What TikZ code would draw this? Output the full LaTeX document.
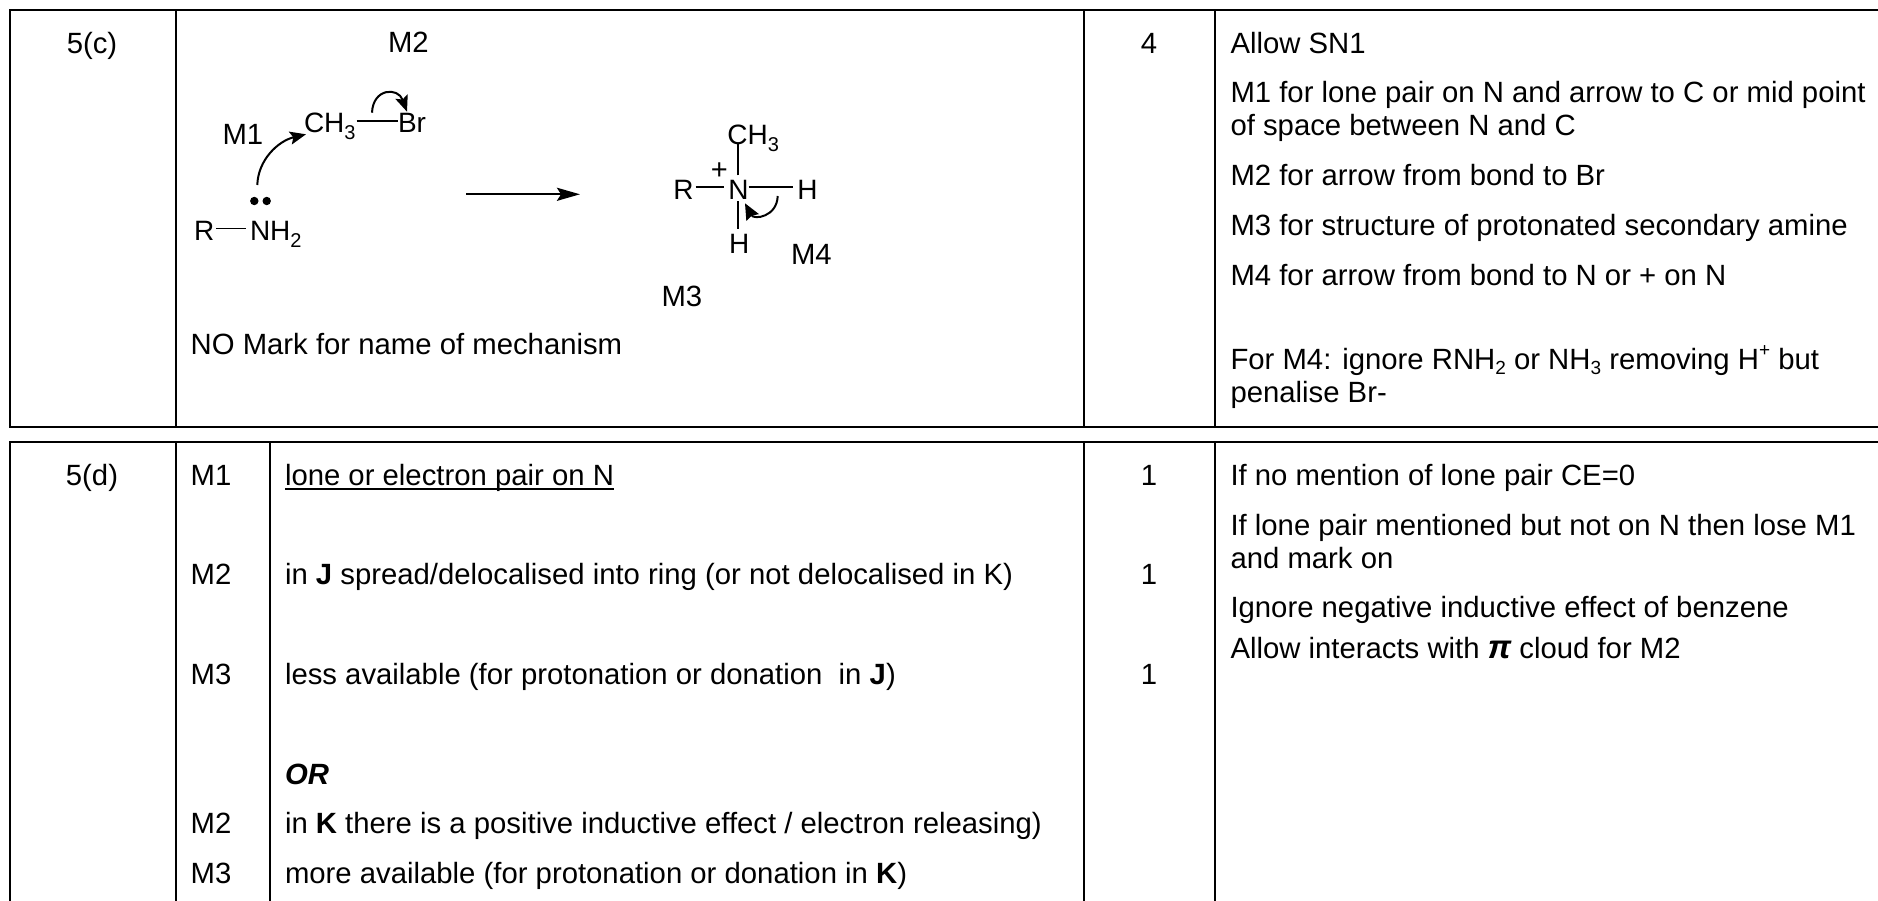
\documentclass[tikz,border=0pt]{standalone}
\usepackage{fontspec}
\setmainfont{Liberation Sans}
\usetikzlibrary{arrows.meta}
\newcommand{\subn}[1]{\raisebox{-0.2em}{\fontsize{19}{19}\selectfont #1}}
\newcommand{\supn}[1]{\raisebox{0.42em}{\fontsize{19}{19}\selectfont #1}}
\newcommand{\csub}[1]{\raisebox{-0.24em}{\fontsize{20}{20}\selectfont #1}}
\tikzset{
  x=1pt,y=-1pt,
  every node/.style={inner sep=0pt,outer sep=0pt,text=black},
  txt/.style={anchor=base west,font=\fontsize{29.3}{34}\selectfont},
  ctr/.style={anchor=base,font=\fontsize{29.3}{34}\selectfont},
  atom/.style={anchor=base west,font=\fontsize{28}{30}\selectfont,text height=24pt,text depth=0pt},
  rule/.style={line width=2.2pt,black},
  bond/.style={line width=1.9pt,black},
  thinbond/.style={line width=1pt,black},
  curly/.style={line width=2pt,black,-{Stealth[length=16pt,width=13pt,inset=3pt]}},
}
\begin{document}
\begin{tikzpicture}
\useasboundingbox (0,0) rectangle (1878,901);
% table rules
\draw[rule] (1878,10) -- (10,10) -- (10,427) -- (1878,427);
\draw[rule] (176,10) -- (176,427);
\draw[rule] (1084,10) -- (1084,427);
\draw[rule] (1215,10) -- (1215,427);
\draw[rule] (1878,442) -- (10,442) -- (10,901);
\draw[rule] (176,442) -- (176,901);
\draw[rule] (270,442) -- (270,901);
\draw[rule] (1084,442) -- (1084,901);
\draw[rule] (1215,442) -- (1215,901);
% row 5(c)
\node[ctr] (qc) at (92,53.3) {5(c)};
\node[ctr] (mc) at (1149,53.3) {4};
\node[txt] (m2a) at (388,52.7) {M2};
\node[txt] (m1a) at (222.5,145) {M1};
\node[txt] (m4a) at (791,264.3) {M4};
\node[txt] (m3a) at (661.5,306.7) {M3};
\node[txt] (nomark) at (190.7,354) {NO Mark for name of mechanism};
% reactants
\node[atom] (ch3) at (304,133) {CH\csub{3}};
\node[atom] (br) at (398,133) {Br};
\node[atom] (r1) at (194,241) {R};
\node[atom] (nh2) at (250,241) {NH\csub{2}};
\draw[bond] (ch3.east) ++(1,0) coordinate (bs) -- (br.west);
\draw[thinbond,shorten <=2pt,shorten >=4pt] (r1.east) -- (nh2.west);
\fill (254.3,201) circle (4.2) (266.7,201) circle (4.2);
\coordinate (m1s) at (257.3,185);
\coordinate (m1e) at (306,134.3);
\draw[curly] (m1s) .. controls (258,160) and (278,141) .. (m1e);
\coordinate (m2s) at (372,112.7);
\coordinate (m2e) at (407,111.7);
\draw[curly] (m2s) .. controls (373,88) and (398,87) .. (m2e);
% reaction arrow
\coordinate (ra) at (466,194.3);
\coordinate (rb) at (580,194.3);
\draw[line width=2.4pt,-{Stealth[length=23pt,width=13pt,inset=4pt]}] (ra) -- (rb);
% product
\node[atom] (ch3p) at (727.3,144.3) {CH\csub{3}};
\node[atom] (np) at (728.3,199.3) {N};
\node[atom] (rp) at (673.3,199.3) {R};
\node[atom] (hr) at (797.3,199.3) {H};
\node[atom] (hb) at (729,253.3) {H};
\node[anchor=center,font=\fontsize{29}{30}\selectfont] (plus) at (719.3,171.5) {+};
\draw[bond,shorten <=2pt,shorten >=4pt] (rp.east) -- (np.west);
\draw[bond,shorten <=0pt,shorten >=4pt] (np.east) -- (hr.west);
\draw[bond] (np.north) -- (np.north |- ch3p.south);
\draw[bond,shorten <=2pt] (np.south) -- (np.south |- hb.north);
\coordinate (m4s) at (777.7,196);
\coordinate (m4e) at (745,203.3);
\draw[line width=2pt,-{Stealth[length=16pt,width=14pt,inset=2pt]}] (m4s) .. controls (777,217) and (754,220) .. (m4e);
% col 4, row c
\node[txt] (c1) at (1230.5,53.3) {Allow SN1};
\node[txt] (c2) at (1230.5,102.7) {M1 for lone pair on N and arrow to C or mid point};
\node[txt] (c3) at (1230.5,136) {of space between N and C};
\node[txt] (c4) at (1230.5,186) {M2 for arrow from bond to Br};
\node[txt] (c5) at (1230.5,236) {M3 for structure of protonated secondary amine};
\node[txt] (c6) at (1230.5,285) {M4 for arrow from bond to N or + on N};
\node[txt] (c7) at (1230.5,369) {For M4: ignore RNH\subn{2} or NH\subn{3} removing H\supn{+} but};
\node[txt] (c8) at (1230.5,402.3) {penalise Br-};
% row 5(d)
\node[ctr] (qd) at (92,485.7) {5(d)};
\node[txt] (dm1) at (190.7,485.7) {M1};
\node[txt] (dm2) at (190.7,584.3) {M2};
\node[txt] (dm3) at (190.7,684.3) {M3};
\node[txt] (dm2b) at (190.7,833.3) {M2};
\node[txt] (dm3b) at (190.7,883.3) {M3};
\node[txt] (d1) at (285,485.7) {lone or electron pair on N};
\draw[line width=2pt] (d1.base west) ++(0,3.6) coordinate (ul) -- (ul -| d1.east);
\node[txt] (d2) at (285,584.3) {in \textbf{J} spread/delocalised into ring (or not delocalised in K)};
\node[txt] (d3) at (285,684.3) {less available (for protonation or donation\ \ in \textbf{J})};
\node[txt] (d4) at (285,784) {\textbf{\textit{OR}}};
\node[txt] (d5) at (285,833.3) {in \textbf{K} there is a positive inductive effect / electron releasing)};
\node[txt] (d6) at (285,883.3) {more available (for protonation or donation in \textbf{K})};
\node[ctr] (md1) at (1149,485.7) {1};
\node[ctr] (md2) at (1149,584.3) {1};
\node[ctr] (md3) at (1149,684.3) {1};
\node[txt] (e1) at (1230.5,485.7) {If no mention of lone pair CE=0};
\node[txt] (e2) at (1230.5,535) {If lone pair mentioned but not on N then lose M1};
\node[txt] (e3) at (1230.5,568.3) {and mark on};
\node[txt] (e4) at (1230.5,617.7) {Ignore negative inductive effect of benzene};
\node[txt] (e5) at (1230.5,658.3) {Allow interacts with {\fontsize{33}{33}\selectfont\bfseries\itshape π} cloud for M2};
\end{tikzpicture}
\end{document}
